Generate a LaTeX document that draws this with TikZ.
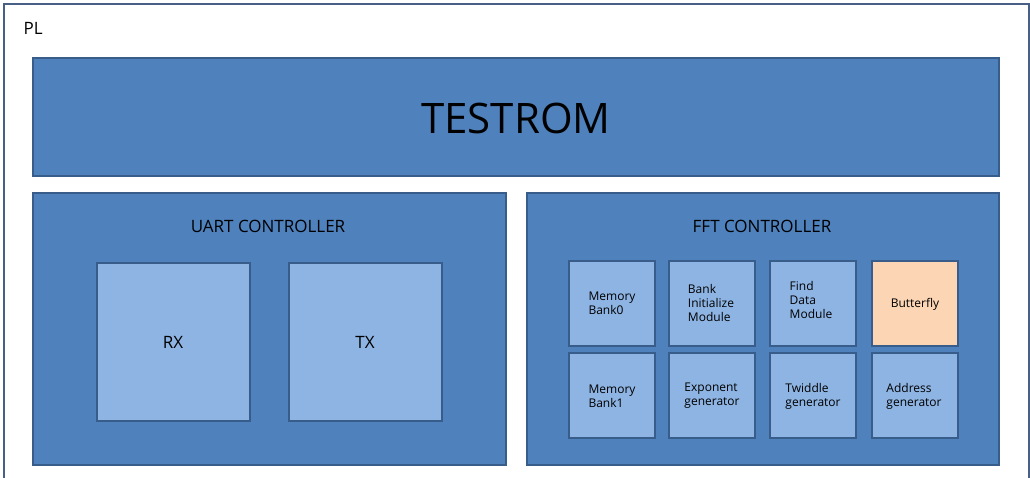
\documentclass[tikz,border=0pt]{standalone}
\usepackage{fontspec}
\setmainfont{Open Sans}
\begin{document}
\begin{tikzpicture}[x=1pt,y=-1pt,
  dark/.style={draw=mybord,fill=mymain,line width=1.5pt},
  light/.style={draw=mybord,fill=mylight,line width=1.5pt},
  box/.style={light,align=left,font=\fontsize{12}{13}\selectfont},
]
\definecolor{mymain}{HTML}{4F81BD}
\definecolor{mylight}{HTML}{8EB4E3}
\definecolor{mybord}{HTML}{385D8A}
\definecolor{mypeach}{HTML}{FCD5B5}
\definecolor{myframe}{HTML}{4A5F86}
\useasboundingbox (0,0) rectangle (1030,478);
\draw[myframe,line width=1.5pt] (4,490) -- (4,4) -- (1029,4) -- (1029,490);
\node[anchor=west,font=\fontsize{17}{18}\selectfont] (pl) at (20,28) {PL};
\draw[dark] (33,58) rectangle (999,176);
\node[font=\fontsize{42}{44}\selectfont] (rom) at (516,118) {TESTROM};
\draw[dark] (33,193) rectangle (506,465);
\node[font=\fontsize{17}{18}\selectfont] (uart) at (268,226) {UART CONTROLLER};
\draw[dark] (527,193) rectangle (999,465);
\node[font=\fontsize{17}{18}\selectfont] (fft) at (762,226) {FFT CONTROLLER};
\draw[light] (97,263) rectangle (250,421);
\node[font=\fontsize{17}{18}\selectfont] (rx) at (173,342) {RX};
\draw[light] (289,263) rectangle (442,421);
\node[font=\fontsize{17}{18}\selectfont] (tx) at (365,342) {TX};
\draw[light] (569,261) rectangle (655,346);
\node[align=left,font=\fontsize{12}{14}\selectfont] (m0) at (612,303) {Memory\\Bank0};
\draw[light] (669,261) rectangle (755,346);
\node[align=left,font=\fontsize{12}{14}\selectfont] (bi) at (711,303) {Bank\\Initialize\\Module};
\draw[light] (770,261) rectangle (856,346);
\node[align=left,font=\fontsize{12}{14}\selectfont] (fd) at (811,300) {Find\\Data\\Module};
\draw[light,fill=mypeach] (872,261) rectangle (958,346);
\node[font=\fontsize{12}{14}\selectfont] (bf) at (915,304) {Butterfly};
\draw[light] (569,353) rectangle (655,438);
\node[align=left,font=\fontsize{12}{14}\selectfont] (m1) at (612,396) {Memory\\Bank1};
\draw[light] (669,353) rectangle (755,438);
\node[align=left,font=\fontsize{12}{14}\selectfont] (ex) at (712,396) {Exponent\\generator};
\draw[light] (770,353) rectangle (856,438);
\node[align=left,font=\fontsize{12}{14}\selectfont] (tw) at (813,396) {Twiddle\\generator};
\draw[light] (872,353) rectangle (958,438);
\node[align=left,font=\fontsize{12}{14}\selectfont] (ad) at (914,396) {Address\\generator};
\end{tikzpicture}
\end{document}
